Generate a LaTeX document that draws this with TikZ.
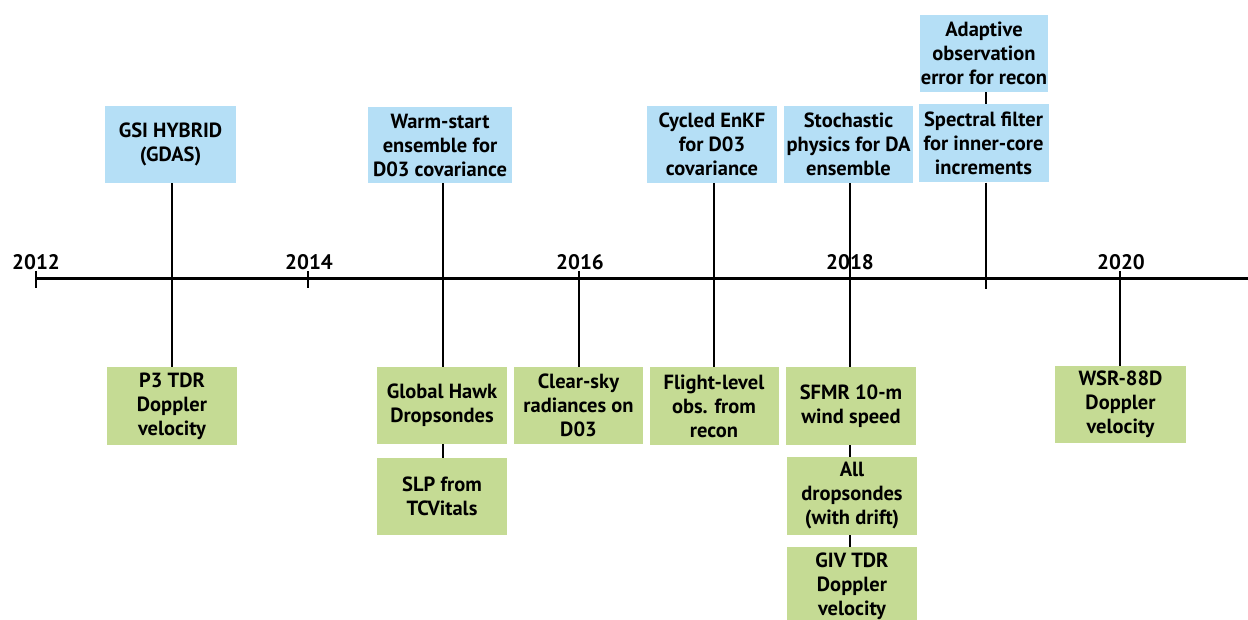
\documentclass[tikz,border=0pt]{standalone}
\usepackage{fontspec}
\setmainfont{PT Sans}
\definecolor{boxblue}{RGB}{181,223,246}
\definecolor{boxgreen}{RGB}{197,219,148}
\begin{document}
\begin{tikzpicture}[x=1pt,y=-1pt,
  box/.style={inner sep=0pt, align=center, font=\fontsize{20.5}{24}\selectfont\bfseries,
    minimum width=130pt, minimum height=77pt},
  bluebox/.style={box, fill=boxblue},
  greenbox/.style={box, fill=boxgreen},
  conn/.style={line width=2.4pt, black},
  axis/.style={line width=3pt, black},
  year/.style={font=\fontsize{21}{24}\selectfont\bfseries, inner sep=0pt}]
\useasboundingbox (0,0) rectangle (1248,620);
% timeline
\coordinate (tA) at (36,279);
\coordinate (tEnd) at (1248,279);
\draw[axis] (tA) -- (tEnd);
% ticks
\coordinate (k12a) at (36,271); \coordinate (k12b) at (36,288);
\coordinate (k14a) at (308,271); \coordinate (k14b) at (308,288);
\coordinate (k16) at (579,271);
\coordinate (k19) at (986,289);
\coordinate (k20) at (1120,271);
\draw[conn] (k12a) -- (k12b);
\draw[conn] (k14a) -- (k14b);
% upper boxes
\node[bluebox, minimum width=131pt] (gsi) at (170.5,144.5) {GSI HYBRID\\(GDAS)};
\node[bluebox, minimum width=144pt, minimum height=76pt] (warm) at (440,145) {Warm-start\\ensemble for\\D03 covariance};
\node[bluebox] (cycled) at (712,144.5) {Cycled EnKF\\for D03\\covariance};
\node[bluebox, minimum width=129pt] (stoch) at (848.5,144.5) {Stochastic\\physics for DA\\ensemble};
\node[bluebox, minimum height=78pt] (spectral) at (983.5,143.5) {Spectral filter\\for inner-core\\increments};
\node[bluebox, minimum width=128pt] (adaptive) at (984,53.5) {Adaptive\\observation\\error for recon};
% lower boxes
\node[greenbox, minimum height=78pt] (p3) at (172,406) {P3 TDR\\Doppler\\velocity};
\node[greenbox] (gh) at (442,405.5) {Global Hawk\\Dropsondes};
\node[greenbox] (slp) at (442,496.5) {SLP from\\TCVitals};
\node[greenbox, minimum width=129pt] (clear) at (578.5,405.5) {Clear-sky\\radiances on\\D03};
\node[greenbox, minimum width=129pt, minimum height=78pt] (flight) at (714,406) {Flight-level\\obs. from\\recon};
\node[greenbox, minimum height=78pt] (sfmr) at (851,406) {SFMR 10-m\\wind speed};
\node[greenbox, minimum height=78pt] (alldrop) at (852,496) {All\\dropsondes\\(with drift)};
\node[greenbox, minimum height=78pt] (giv) at (852,586) {GIV TDR\\Doppler\\velocity};
\node[greenbox, minimum width=131pt] (wsr) at (1120.5,404.5) {WSR-88D\\Doppler\\velocity};
% connectors
\draw[conn] (p3.north) -- (p3.north |- gsi.south);
\draw[conn] ([xshift=1pt]gh.north) -- ([xshift=1pt]gh.north |- warm.south);
\draw[conn] ([xshift=1pt]gh.south) -- ([xshift=1pt]slp.north);
\draw[conn] (k16) -- (k16 |- clear.north);
\draw[conn] (flight.north) -- (flight.north |- cycled.south);
\draw[conn] ([xshift=-1pt]sfmr.north) -- ([xshift=-1pt]sfmr.north |- stoch.south);
\draw[conn] ([xshift=-1pt]sfmr.south) -- ([xshift=-2pt]alldrop.north);
\draw[conn] ([xshift=-2pt]alldrop.south) -- ([xshift=-2pt]giv.north);
\draw[conn] ([xshift=2pt]adaptive.north |- adaptive.south) -- ([xshift=2.5pt]spectral.north);
\draw[conn] ([xshift=2.5pt]spectral.south) -- (k19);
\draw[conn] (k20) -- (k20 |- wsr.north);
% year labels
\node[year] (y12) at (36,262) {2012};
\node[year] (y14) at (309,262) {2014};
\node[year] (y16) at (580,262) {2016};
\node[year] (y18) at (850,262) {2018};
\node[year] (y20) at (1121,262) {2020};
\end{tikzpicture}
\end{document}
